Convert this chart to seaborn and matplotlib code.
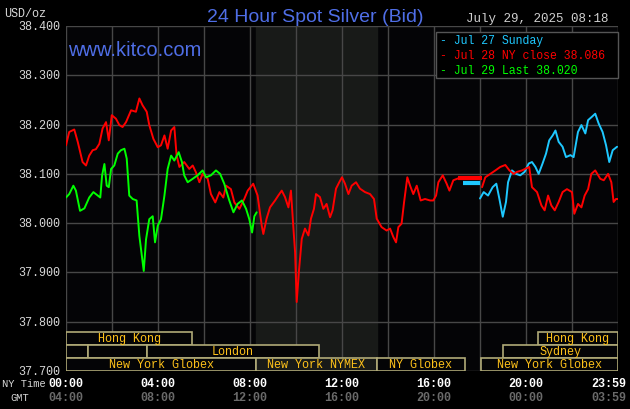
import numpy as np, pandas as pd
import seaborn as sns
import matplotlib
matplotlib.use("Agg")
import matplotlib.pyplot as plt
from matplotlib.patches import Rectangle

# Jul 28 (red): hours since 00:00 NY time, price
red_hr = [0, 0.14, 0.36, 0.51, 0.72, 0.87, 1.01, 1.16, 1.30, 1.45, 1.59, 1.74, 1.86, 1.99, 2.17, 2.32, 2.46, 2.61,
          2.83, 3.04, 3.19, 3.33, 3.51, 3.62, 3.80, 3.99, 4.13, 4.28, 4.42, 4.57, 4.71, 4.81, 4.93, 5.14, 5.36, 5.51,
          5.65, 5.80, 5.94, 6.16, 6.30, 6.49, 6.67, 6.84, 6.96, 7.17, 7.32, 7.54, 7.75, 7.90, 8.14, 8.33, 8.51, 8.58,
          8.72, 8.87, 9.09, 9.23, 9.38, 9.52, 9.67, 9.78, 9.88, 9.96, 10.03, 10.13, 10.25, 10.39, 10.54, 10.65, 10.78,
          10.87, 11.04, 11.19, 11.33, 11.48, 11.59, 11.74, 11.88, 12.0, 12.13, 12.28, 12.42, 12.61, 12.78, 13.0, 13.22,
          13.39, 13.51, 13.72, 13.94, 14.09, 14.23, 14.35, 14.45, 14.59, 14.70, 14.84, 14.96, 15.10, 15.25, 15.42,
          15.61, 15.83, 15.97, 16.09, 16.19, 16.38, 16.55, 16.67, 16.84, 17.06]
red_px = [38.158, 38.185, 38.19, 38.165, 38.124, 38.117, 38.137, 38.148, 38.150, 38.161, 38.192, 38.205, 38.168,
          38.219, 38.212, 38.199, 38.195, 38.205, 38.229, 38.226, 38.253, 38.239, 38.226, 38.199, 38.171, 38.154,
          38.158, 38.178, 38.151, 38.188, 38.195, 38.137, 38.114, 38.124, 38.110, 38.117, 38.103, 38.083, 38.10,
          38.09, 38.059, 38.042, 38.063, 38.052, 38.076, 38.069, 38.042, 38.029, 38.049, 38.066, 38.080, 38.056,
          37.995, 37.978, 38.009, 38.032, 38.046, 38.056, 38.066, 38.053, 38.032, 38.066, 37.995, 37.941, 37.840,
          37.904, 37.968, 37.989, 37.975, 38.009, 38.029, 38.059, 38.053, 38.029, 38.039, 38.012, 38.026, 38.070,
          38.083, 38.093, 38.080, 38.059, 38.076, 38.083, 38.070, 38.063, 38.059, 38.049, 38.009, 37.992, 37.985,
          37.989, 37.972, 37.961, 37.992, 37.999, 38.043, 38.093, 38.076, 38.059, 38.076, 38.046, 38.049, 38.046,
          38.046, 38.056, 38.083, 38.097, 38.080, 38.066, 38.087, 38.091]
red_hr2 = [18.09, 18.23, 18.45, 18.67, 18.88, 19.10, 19.28, 19.46, 19.61, 19.83, 20.0, 20.14, 20.26, 20.48, 20.67,
           20.81, 20.96, 21.10, 21.25, 21.42, 21.59, 21.78, 22.0, 22.10, 22.26, 22.41, 22.55, 22.70, 22.84, 23.01,
           23.23, 23.38, 23.57, 23.71, 23.81, 23.91, 24.0]
red_px2 = [38.073, 38.093, 38.10, 38.107, 38.114, 38.118, 38.107, 38.10, 38.104, 38.107, 38.111, 38.114, 38.073,
           38.063, 38.036, 38.026, 38.056, 38.036, 38.026, 38.043, 38.063, 38.069, 38.063, 38.019, 38.039, 38.032,
           38.056, 38.069, 38.10, 38.107, 38.09, 38.087, 38.10, 38.083, 38.043, 38.049, 38.049]
red_flat = (17.06, 18.09, 38.091)

# Jul 29 (green)
grn_hr = [0, 0.14, 0.32, 0.43, 0.61, 0.80, 1.01, 1.19, 1.38, 1.49, 1.57, 1.67, 1.77, 1.86, 1.96, 2.10, 2.25, 2.39,
          2.54, 2.64, 2.75, 2.90, 3.07, 3.19, 3.30, 3.38, 3.48, 3.62, 3.77, 3.87, 3.99, 4.13, 4.28, 4.42, 4.57, 4.71,
          4.90, 5.04, 5.14, 5.29, 5.51, 5.72, 5.94, 6.09, 6.30, 6.52, 6.70, 6.88, 7.10, 7.28, 7.46, 7.65, 7.83, 7.97,
          8.09, 8.19, 8.29]
grn_px = [38.052, 38.059, 38.076, 38.066, 38.025, 38.030, 38.052, 38.063, 38.056, 38.052, 38.097, 38.120, 38.076,
          38.073, 38.110, 38.117, 38.141, 38.148, 38.151, 38.131, 38.056, 38.049, 38.046, 37.974, 37.933, 37.903,
          37.967, 38.008, 38.014, 37.961, 37.995, 38.008, 38.056, 38.110, 38.137, 38.127, 38.144, 38.124, 38.097,
          38.083, 38.090, 38.097, 38.107, 38.093, 38.097, 38.107, 38.10, 38.080, 38.046, 38.022, 38.039, 38.046,
          38.029, 38.008, 37.981, 38.014, 38.022]

# Jul 27 Sunday (blue)
blu_hr = [18.0, 18.16, 18.35, 18.55, 18.71, 18.84, 18.99, 19.13, 19.22, 19.39, 19.57, 19.75, 19.94, 20.12, 20.26,
          20.41, 20.55, 20.72, 20.87, 21.01, 21.16, 21.28, 21.42, 21.59, 21.74, 21.93, 22.07, 22.26, 22.41, 22.58,
          22.70, 22.87, 23.01, 23.16, 23.33, 23.48, 23.62, 23.77, 23.96]
blu_px = [38.050, 38.063, 38.056, 38.073, 38.080, 38.050, 38.013, 38.043, 38.083, 38.107, 38.10, 38.097, 38.104,
          38.121, 38.124, 38.114, 38.10, 38.121, 38.141, 38.168, 38.178, 38.188, 38.165, 38.155, 38.134, 38.138,
          38.134, 38.185, 38.199, 38.182, 38.209, 38.216, 38.222, 38.202, 38.185, 38.158, 38.124, 38.148, 38.155]
blu_flat = (17.28, 18.0, 38.082)

yticks = [37.7, 37.8, 37.9, 38.0, 38.1, 38.2, 38.3, 38.4]
ny_labels = ["00:00", "04:00", "08:00", "12:00", "16:00", "20:00", "23:59"]
gmt_labels = ["04:00", "08:00", "12:00", "16:00", "20:00", "00:00", "03:59"]
label_hours = [0, 4, 8, 12, 16, 20, 24]

# sessions: (row, start, end, name)
sessions = [(0, 0, 5.48, "Hong Kong"), (0, 20.5, 24, "Hong Kong"),
            (1, 0, 0.97, ""), (1, 0.97, 3.5, ""), (1, 3.5, 11.0, "London"), (1, 19.0, 24, "Sydney"),
            (2, 0, 8.27, "New York Globex"), (2, 8.27, 13.5, "New York NYMEX"),
            (2, 13.5, 17.35, "NY Globex"), (2, 18.05, 24, "New York Globex")]
row_y = [(37.753, 37.779), (37.727, 37.753), (37.7, 37.727)]
nymex = (8.27, 13.5)

RED, GRN, BLU = "#ff0000", "#00ff00", "#1ec8ff"
MONO = "Liberation Mono"
TITLE_FONT = ["Liberation Sans Narrow", "Liberation Sans"]
sns.set_style("dark")
plt.rcParams["font.family"] = ["DejaVu Sans"]

fig = plt.figure(figsize=(6.3, 4.1), dpi=100, facecolor="black")
W, H = 630, 410
ax = fig.add_axes([66 / W, 1 - 372 / H, 552 / W, 345 / H])
ax.set_facecolor("#040406")
ax.set_xlim(0, 24)
ax.set_ylim(37.7, 38.4)
ax.axvspan(*nymex, color="#181a18", zorder=0)
for h in range(0, 25, 2):
    ax.axvline(h, color="#474747", lw=1, zorder=1)
for y in yticks:
    ax.axhline(y, color="#474747", lw=1, zorder=1)
for s in ax.spines.values():
    s.set_visible(False)
ax.set_xticks([])
ax.set_yticks([])

df = pd.concat([
    pd.DataFrame({"hr": red_hr, "px": red_px, "s": "r1"}),
    pd.DataFrame({"hr": red_hr2, "px": red_px2, "s": "r2"}),
    pd.DataFrame({"hr": grn_hr, "px": grn_px, "s": "g"}),
    pd.DataFrame({"hr": blu_hr, "px": blu_px, "s": "b"}),
])
sns.lineplot(data=df, x="hr", y="px", hue="s", palette={"r1": RED, "r2": RED, "g": GRN, "b": BLU},
             hue_order=["b", "r1", "r2", "g"], estimator=None, sort=False, lw=1.4, legend=False, ax=ax, zorder=3)
ax.plot(red_flat[:2], [red_flat[2]] * 2, color=RED, lw=3, zorder=3, solid_capstyle="butt")
ax.plot(blu_flat[:2], [blu_flat[2]] * 2, color=BLU, lw=3, zorder=3, solid_capstyle="butt")
ax.set_xlabel("")
ax.set_ylabel("")

# trading sessions
for row, a, b, name in sessions:
    lo, hi = row_y[row]
    fc = "#181a18" if name == "New York NYMEX" else "#040406"
    ax.add_patch(Rectangle((a, lo), b - a, hi - lo, facecolor=fc, edgecolor="#b0aa78", lw=1.2, zorder=4))
    if name:
        ax.text((a + b) / 2, (lo + hi) / 2, name, color="#ffc21a", ha="center", va="center",
                fontsize=8.5, family=MONO, zorder=5)

# y labels
for y in yticks:
    ax.text(-0.25, y, f"{y:.3f}", color="#d8d8d8", ha="right", va="center", fontsize=8.5, family=MONO)
fig.text(4 / W, 1 - 14 / H, "USD/oz", color="#d8d8d8", ha="left", va="center", fontsize=8.5, family=MONO)

# x labels
for h, t1, t2 in zip(label_hours, ny_labels, gmt_labels):
    x = (66 + h * 23) / W
    ha = "right" if h == 24 else "center"
    if h == 24:
        x = 626 / W
    fig.text(x, 1 - 384 / H, t1, color="white", ha=ha, va="center", fontsize=8.5, family=MONO, weight="bold")
    fig.text(x, 1 - 398 / H, t2, color="#6a6a6a", ha=ha, va="center", fontsize=8.5, family=MONO, weight="bold")
fig.text(2 / W, 1 - 384 / H, "NY Time", color="#d8d8d8", ha="left", va="center", fontsize=7.5, family=MONO)
fig.text(10 / W, 1 - 398 / H, "GMT", color="#d8d8d8", ha="left", va="center", fontsize=7.5, family=MONO)

# titles
fig.text(315 / W, 1 - 17 / H, "24 Hour Spot Silver (Bid)", color="#4f6ee6", ha="center", va="center",
         fontsize=14, family=TITLE_FONT)
fig.text(608 / W, 1 - 19 / H, "July 29, 2025 08:18", color="#d0d0d0", ha="right", va="center",
         fontsize=9, family=MONO)
fig.text(68 / W, 1 - 50 / H, "www.kitco.com", color="#4f6ee6", ha="left", va="center",
         fontsize=14.5, family=TITLE_FONT)

# legend box
fig.patches.append(Rectangle((436 / W, 1 - 79 / H), 182 / W, 46 / H, transform=fig.transFigure,
                             facecolor="black", edgecolor="#555555", lw=1, zorder=6))
for i, (txt, c) in enumerate([("Jul 27 Sunday", BLU), ("Jul 28 NY close 38.086", RED), ("Jul 29 Last 38.020", GRN)]):
    fig.text(440 / W, 1 - (41 + i * 15) / H, "- " + txt, color=c, ha="left", va="center",
             fontsize=8.3, family=MONO, zorder=7)

fig.savefig("out.png", dpi=100, facecolor="black")
